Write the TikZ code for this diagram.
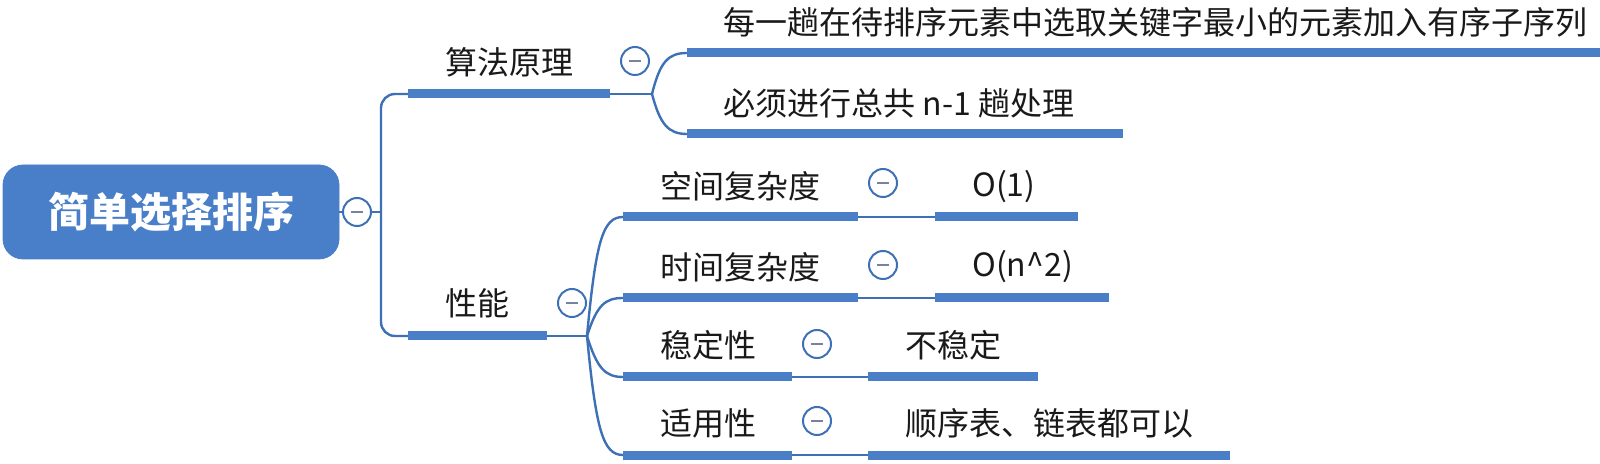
\documentclass[tikz,border=0pt]{standalone}
\usepackage{fontspec}
\setmainfont{Noto Sans CJK SC}
\definecolor{rootblue}{RGB}{73,127,201}
\definecolor{barblue}{RGB}{74,127,200}
\definecolor{lineblue}{RGB}{62,112,182}
\definecolor{minusgray}{RGB}{120,130,160}
\definecolor{txt}{RGB}{25,25,25}
\begin{document}
\begin{tikzpicture}[x=0.5pt,y=-0.5pt,
  bar/.style={line width=4.5pt, draw=barblue},
  conn/.style={line width=1.2pt, draw=lineblue},
  lbl/.style={anchor=west, inner sep=0pt, text=txt, font=\fontsize{16}{16}\selectfont},
  tog/.style={circle, draw=lineblue, line width=1pt, fill=white, minimum size=14pt, inner sep=0pt,
    path picture={\draw[minusgray, line width=1pt] ([xshift=-3pt]path picture bounding box.center) -- ([xshift=3pt]path picture bounding box.center);}},
  rootbox/.style={rounded corners=10pt, fill=rootblue, draw=rootblue, text=white, minimum width=168pt, minimum height=47pt, inner sep=0pt, font=\fontsize{20.5}{20.5}\selectfont\bfseries},
]
\useasboundingbox (0,0) rectangle (1600,464);

% root
\node[rootbox] (root) at (171,212) {简单选择排序};
\node[tog] (c0) at (357,212) {};
\coordinate (j0) at (381,212);
\draw[conn] (root.east) -- (c0.west);
\draw[conn] (c0.east) -- (j0);

% level 1: 算法原理
\coordinate (a1s) at (408,94);
\coordinate (a1e) at (610,94);
\coordinate (s1) at (652,94);
\node[lbl] (t1) at (445,62) {算法原理};
\node[tog] (c1) at (635,61) {};
\draw[conn, rounded corners=7pt] (j0) |- (a1s);
\draw[bar] (a1s) -- (a1e);
\draw[conn] (a1e) -- (s1);

% leaves of 算法原理
\coordinate (l1s) at (687,53);
\coordinate (l1e) at (1600,53);
\coordinate (l2s) at (687,134);
\coordinate (l2e) at (1123,134);
\node[lbl] (tl1) at (723,22) {每一趟在待排序元素中选取关键字最小的元素加入有序子序列};
\node[lbl] (tl2) at (723,103) {必须进行总共 n-1 趟处理};
\draw[conn] (s1) .. controls (660,62) and (668,53) .. (l1s);
\draw[conn] (s1) .. controls (660,124) and (668,134) .. (l2s);
\draw[bar] (l1s) -- (l1e);
\draw[bar] (l2s) -- (l2e);

% level 1: 性能
\coordinate (a2s) at (408,336);
\coordinate (a2e) at (547,336);
\coordinate (s2) at (587,336);
\node[lbl] (t2) at (445,303) {性能};
\node[tog] (c2) at (572,303) {};
\draw[conn, rounded corners=7pt] (j0) |- (a2s);
\draw[bar] (a2s) -- (a2e);
\draw[conn] (a2e) -- (s2);

% level 2 under 性能
\coordinate (b1s) at (623,217); \coordinate (b1e) at (858,217);
\coordinate (b2s) at (623,298); \coordinate (b2e) at (858,298);
\coordinate (b3s) at (623,377); \coordinate (b3e) at (792,377);
\coordinate (b4s) at (623,455); \coordinate (b4e) at (792,455);
\draw[conn] (s2) .. controls (596,240) and (603,217) .. (b1s);
\draw[conn] (s2) .. controls (597,305) and (605,298) .. (b2s);
\draw[conn] (s2) .. controls (597,368) and (605,377) .. (b3s);
\draw[conn] (s2) .. controls (596,430) and (603,455) .. (b4s);
\draw[bar] (b1s) -- (b1e);
\draw[bar] (b2s) -- (b2e);
\draw[bar] (b3s) -- (b3e);
\draw[bar] (b4s) -- (b4e);
\node[lbl] (tb1) at (660,186) {空间复杂度};
\node[lbl] (tb2) at (660,267) {时间复杂度};
\node[lbl] (tb3) at (660,345) {稳定性};
\node[lbl] (tb4) at (660,423) {适用性};
\node[tog] (cb1) at (883,183) {};
\node[tog] (cb2) at (883,265) {};
\node[tog] (cb3) at (817,344) {};
\node[tog] (cb4) at (817,421) {};

% leaves
\coordinate (v1s) at (935,217); \coordinate (v1e) at (1078,217);
\coordinate (v2s) at (935,298); \coordinate (v2e) at (1109,298);
\coordinate (v3s) at (868,377); \coordinate (v3e) at (1038,377);
\coordinate (v4s) at (868,455); \coordinate (v4e) at (1230,455);
\draw[conn] (b1e) -- (v1s);
\draw[conn] (b2e) -- (v2s);
\draw[conn] (b3e) -- (v3s);
\draw[conn] (b4e) -- (v4s);
\draw[bar] (v1s) -- (v1e);
\draw[bar] (v2s) -- (v2e);
\draw[bar] (v3s) -- (v3e);
\draw[bar] (v4s) -- (v4e);
\node[lbl] (tv1) at (972,187) {O(1)};
\node[lbl] (tv2) at (972,267) {O(n\^{}2)};
\node[lbl] (tv3) at (905,345) {不稳定};
\node[lbl] (tv4) at (905,423) {顺序表、链表都可以};
\end{tikzpicture}
\end{document}
